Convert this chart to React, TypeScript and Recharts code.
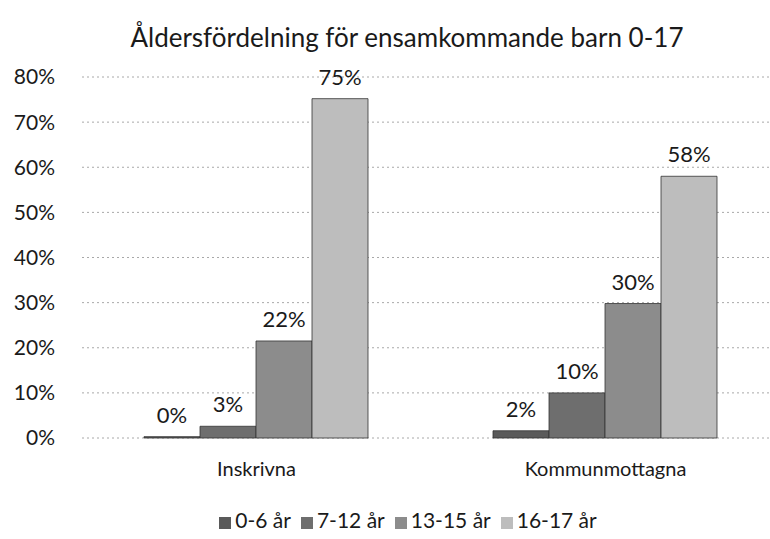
import React from 'react'
import {
  BarChart,
  Bar,
  XAxis,
  YAxis,
  CartesianGrid,
  Legend,
  LabelList,
} from 'recharts'

const categories = ['Inskrivna', 'Kommunmottagna']
const age0to6 = [0.003, 0.016]
const age7to12 = [0.026, 0.1]
const age13to15 = [0.215, 0.298]
const age16to17 = [0.752, 0.58]
const yTicks = [0, 0.1, 0.2, 0.3, 0.4, 0.5, 0.6, 0.7, 0.8]

const seriesNames = ['0-6 år', '7-12 år', '13-15 år', '16-17 år']
const seriesFills = ['#5a5a5a', '#6e6e6e', '#8c8c8c', '#bdbdbd']

const data = categories.map((name, i) => ({
  name,
  a: age0to6[i],
  b: age7to12[i],
  c: age13to15[i],
  d: age16to17[i],
}))

const font = 'Lato, "Open Sans", sans-serif'
const pct = (v: number) => `${Math.round(v * 100)}%`

export default function App() {
  return (
    <div
      style={{
        position: 'absolute',
        left: 0,
        top: 0,
        width: 770,
        height: 539,
        overflow: 'hidden',
        background: '#fff',
        fontFamily: font,
      }}
    >
      <div
        style={{
          position: 'absolute',
          top: 21,
          left: 0,
          width: 814,
          textAlign: 'center',
          fontSize: 26,
          color: '#1a1a1a',
        }}
      >
        Åldersfördelning för ensamkommande barn 0-17
      </div>
      <BarChart
        width={780}
        height={539}
        data={data}
        margin={{ top: 77, right: 0, left: 0, bottom: 21 }}
        barCategoryGap={62}
        barGap={0}
      >
        <CartesianGrid
          vertical={false}
          stroke="#a8a8a8"
          strokeDasharray="2 3"
        />
        <XAxis
          dataKey="name"
          axisLine={false}
          tickLine={false}
          tickSize={0}
          tickMargin={24}
          height={50}
          tick={{ fontSize: 20, fill: '#1a1a1a', fontFamily: font }}
        />
        <YAxis
          width={82}
          domain={[0, 0.8]}
          ticks={yTicks}
          tickFormatter={pct}
          axisLine={false}
          tickLine={false}
          tickSize={0}
          tickMargin={27}
          tick={{ fontSize: 21, fill: '#1a1a1a', fontFamily: font }}
        />
        <Legend
          height={30}
          iconType="square"
          iconSize={12}
          itemSorter="dataKey"
          wrapperStyle={{ top: 507, left: 0, width: 826, fontSize: 21, color: '#1a1a1a', fontFamily: font }}
          formatter={(v) => <span style={{ color: '#1a1a1a' }}>{v}</span>}
        />
        {['a', 'b', 'c', 'd'].map((key, i) => (
          <Bar
            key={key}
            dataKey={key}
            name={seriesNames[i]}
            fill={seriesFills[i]}
            stroke="#333"
            strokeWidth={0.8}
            isAnimationActive={false}
          >
            <LabelList
              dataKey={key}
              position="top"
              offset={14}
              formatter={(v: any) => pct(Number(v))}
              style={{ fontSize: 22, fill: '#1a1a1a', fontFamily: font }}
            />
          </Bar>
        ))}
      </BarChart>
    </div>
  )
}
